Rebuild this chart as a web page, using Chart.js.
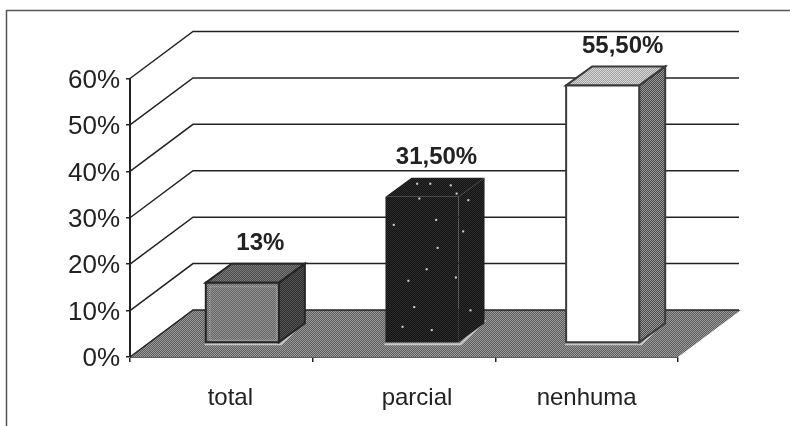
<!DOCTYPE html>
<html>
<head>
<meta charset="utf-8">
<style>html,body{margin:0;padding:0;background:#fff}#wrap{width:790px;height:426px;position:relative}</style>
<script src="https://cdn.jsdelivr.net/npm/chart.js@4"></script>
</head>
<body>
<div id="wrap"><canvas id="c" width="790" height="426"></canvas></div>
<script>
// Chart values
const categories = ['total', 'parcial', 'nenhuma'];
const shares = [13, 31.5, 55.5];
const shareLabels = ['13%', '31,50%', '55,50%'];
const yTicks = [0, 10, 20, 30, 40, 50, 60];

// Projection of the 3D box
const WALL_DX = 63, WALL_DY = -47;   // floor depth
const BAR_DX = 26, BAR_DY = -19;     // bar depth
const BAR_LIFT = -14;                // bars stand mid-floor
const barShift = [21, 18, 16];
const valueShift = [18, 14.5, 20];
const labelShift = [9, 13, 0];
const INK = '#222222';
const SANS = '"Liberation Sans", Arial, sans-serif';

// Two-tone halftone fill, like a printed grey
function halftone(ctx, a, b) {
  const t = document.createElement('canvas');
  t.width = t.height = 2;
  const g = t.getContext('2d');
  g.fillStyle = a; g.fillRect(0, 0, 2, 2);
  g.fillStyle = b; g.fillRect(0, 0, 1, 1); g.fillRect(1, 1, 1, 1);
  return ctx.createPattern(t, 'repeat');
}

function poly(ctx, pts, fill, stroke, lw) {
  ctx.beginPath();
  pts.forEach((p, i) => i ? ctx.lineTo(p[0], p[1]) : ctx.moveTo(p[0], p[1]));
  ctx.closePath();
  if (fill) { ctx.fillStyle = fill; ctx.fill(); }
  if (stroke) { ctx.strokeStyle = stroke; ctx.lineWidth = lw || 1; ctx.stroke(); }
}

// Specks of light on the dark bar, as fractions of its front face and depth
const specks = [[.42,.03],[.6,.03],[.88,.04],[.96,.09],[.45,.12],[1.12,.13],[.1,.28],[.68,.25],
                [1.05,.32],[.7,.42],[.55,.55],[.3,.62],[.95,.6],[.38,.78],[1.15,.8],[.62,.92],[.22,.9]];

const box3d = {
  id: 'box3d',
  beforeDatasetsDraw(chart) {
    const { ctx, scales: { x, y } } = chart;
    const l = x.left, r = x.right, b = y.getPixelForValue(0);
    ctx.save();
    // frame
    ctx.strokeStyle = '#555'; ctx.lineWidth = 1.5;
    ctx.beginPath(); ctx.moveTo(6.5, 426); ctx.lineTo(6.5, 10.5); ctx.lineTo(790, 10.5); ctx.stroke();
    // floor
    poly(ctx, [[l, b], [r, b], [r + WALL_DX, b + WALL_DY], [l + WALL_DX, b + WALL_DY]],
      halftone(ctx, '#5c5c5c', '#9a9a9a'));
    // side wall and back wall gridlines
    ctx.strokeStyle = INK; ctx.lineWidth = 1.5;
    yTicks.forEach(v => {
      const py = y.getPixelForValue(v);
      ctx.beginPath();
      ctx.moveTo(l, py);
      ctx.lineTo(l + WALL_DX, py + WALL_DY);
      ctx.lineTo(r + WALL_DX - 2, py + WALL_DY);
      ctx.stroke();
    });
    ctx.restore();
  },
  afterDatasetsDraw(chart) {
    const { ctx, scales: { x, y } } = chart;
    const darkBar = halftone(ctx, '#141414', '#2c2c2c');
    const styles = [
      { front: halftone(ctx, '#636363', '#949494'), top: halftone(ctx, '#4a4a4a', '#7c7c7c'), side: halftone(ctx, '#2e2e2e', '#555'), edge: '#262626' },
      { front: darkBar, top: darkBar, side: darkBar, edge: null },
      { front: '#ffffff', top: halftone(ctx, '#a0a0a0', '#d8d8d8'), side: halftone(ctx, '#484848', '#9a9a9a'), edge: '#3a3a3a' }
    ];
    ctx.save();
    chart.getDatasetMeta(0).data.forEach((bar, i) => {
      const s = styles[i];
      const hw = bar.width / 2;
      const x0 = bar.x + barShift[i] - hw, x1 = bar.x + barShift[i] + hw;
      const top = bar.y + BAR_LIFT, bot = bar.base + BAR_LIFT;
      // contact highlight on the floor
      ctx.strokeStyle = '#c8c8c8'; ctx.lineWidth = 2;
      ctx.beginPath();
      ctx.moveTo(x0 - 1, bot + 2); ctx.lineTo(x1 + 2, bot + 2);
      ctx.lineTo(x1 + BAR_DX + 1, bot + BAR_DY - 3);
      ctx.stroke();
      // side, top, front faces
      poly(ctx, [[x1, top], [x1 + BAR_DX, top + BAR_DY], [x1 + BAR_DX, bot + BAR_DY], [x1, bot]], s.side, s.edge, 2);
      poly(ctx, [[x0, top], [x0 + BAR_DX, top + BAR_DY], [x1 + BAR_DX, top + BAR_DY], [x1, top]], s.top, s.edge, 2);
      poly(ctx, [[x0, top], [x1, top], [x1, bot], [x0, bot]], s.front, s.edge, 2);
      if (i === 0) {
        ctx.setLineDash([1, 1]); ctx.strokeStyle = '#c4c4c4'; ctx.lineWidth = 1;
        ctx.strokeRect(x0 + 4, top + 4, x1 - x0 - 6, bot - top - 6);
        ctx.setLineDash([]);
      }
      if (i === 1) {
        ctx.fillStyle = '#d8d8d8';
        specks.forEach(([fx, fy]) => ctx.fillRect(x0 + fx * (x1 - x0), top + BAR_DY + fy * (bot - top - BAR_DY), 2, 2));
      }
      // value label
      ctx.fillStyle = INK;
      ctx.font = 'bold 24px ' + SANS;
      ctx.textAlign = 'center';
      ctx.textBaseline = 'middle';
      ctx.fillText(shareLabels[i], bar.x + barShift[i] + valueShift[i], top + BAR_DY - 20);
    });
    // category labels
    ctx.font = '24px ' + SANS;
    ctx.textBaseline = 'middle';
    categories.forEach((c, i) => ctx.fillText(c, x.getPixelForTick(i) + labelShift[i], 398));
    ctx.restore();
  }
};

new Chart(document.getElementById('c'), {
  type: 'bar',
  data: {
    labels: categories,
    datasets: [{ data: shares, backgroundColor: 'transparent', borderWidth: 0, categoryPercentage: 1, barPercentage: 0.4 }]
  },
  options: {
    responsive: false,
    animation: false,
    layout: { padding: { top: 78.5, right: 112, left: 0, bottom: 0 } },
    plugins: { legend: { display: false }, tooltip: { enabled: false } },
    scales: {
      x: {
        afterFit: s => { s.height = 69; },
        ticks: { display: false },
        grid: { drawOnChartArea: false, drawTicks: true, tickLength: 5, color: INK, lineWidth: 1.5, offset: true },
        border: { color: '#5c5c5c', width: 1 }
      },
      y: {
        min: 0, max: 60,
        afterFit: s => { s.width = 130; },
        ticks: { stepSize: 10, padding: 6, labelOffset: 2, color: INK, font: { family: SANS, size: 26 }, callback: v => v + '%' },
        grid: { drawOnChartArea: false, tickLength: 4, color: INK, lineWidth: 1.5 },
        border: { color: INK, width: 2 }
      }
    }
  },
  plugins: [box3d]
});
</script>
</body>
</html>
